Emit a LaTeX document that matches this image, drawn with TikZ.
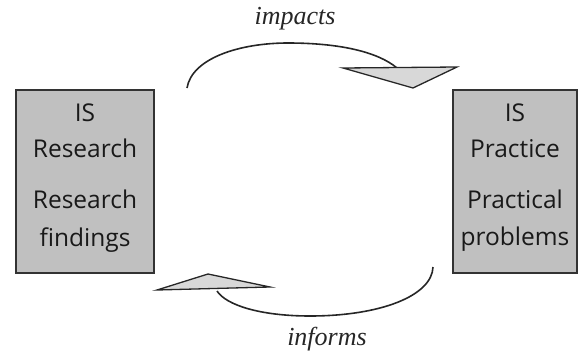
\documentclass[tikz,border=0pt]{standalone}
\usepackage{fontspec}
\setmainfont{Open Sans}
\newfontfamily\labelfont{Liberation Serif}
\begin{document}
\begin{tikzpicture}[x=1pt,y=-1pt,
  panel/.style={draw=black!80,line width=1.2pt,fill=boxgray,minimum width=#1,minimum height=183pt,inner sep=0pt},
  boxtext/.style={anchor=base,font=\fontsize{24.5}{30}\selectfont,text=black!90,inner sep=0pt},
  arc/.style={line width=1.6pt,draw=black!85},
  tip/.style={draw=black!85,line width=1.3pt,fill=tipgray,line join=miter},
  flowlabel/.style={font=\labelfont\itshape\fontsize{26}{30}\selectfont,text=black!85,inner sep=0pt}]
\definecolor{boxgray}{HTML}{C0C0C0}
\definecolor{tipgray}{HTML}{D8D8D8}
\useasboundingbox (0,0) rectangle (579,351);

% two boxes
\node[panel=138pt] (research) at (85,181.5) {};
\node[panel=124pt] (practice) at (515,181.5) {};

\node[boxtext] (r1) at (85,121) {IS};
\node[boxtext] (r2) at (85,157) {Research};
\node[boxtext] (r3) at (85,208) {Research};
\node[boxtext] (r4) at (85,246) {findings};

\node[boxtext] (p1) at (515,121) {IS};
\node[boxtext] (p2) at (515,157) {Practice};
\node[boxtext] (p3) at (515,208) {Practical};
\node[boxtext] (p4) at (515,245) {problems};

% upper flow: research impacts practice
\coordinate (topstart) at (187,88);
\coordinate (toptop) at (288,43);
\coordinate (topend) at (397,68);
\draw[arc] (topstart) .. controls (192,58) and (240,43) .. (toptop)
  .. controls (340,43) and (378,52) .. (topend);
\coordinate (ta) at (343,68);
\coordinate (tb) at (457,67);
\coordinate (tc) at (413,88);
\draw[tip] (ta) -- (tb) -- (tc) -- cycle;
\node[flowlabel] (impacts) at (295,19) {impacts};

% lower flow: practice informs research
\coordinate (botstart) at (433,267);
\coordinate (botlow) at (310,316);
\coordinate (botend) at (217,291);
\draw[arc] (botstart) .. controls (432,296) and (380,316) .. (botlow)
  .. controls (260,316) and (226,305) .. (botend);
\coordinate (ba) at (157,290);
\coordinate (bb) at (208,274);
\coordinate (bc) at (270,287);
\draw[tip] (ba) -- (bb) -- (bc) -- cycle;
\node[flowlabel] (informs) at (327,339) {informs};
\end{tikzpicture}
\end{document}
